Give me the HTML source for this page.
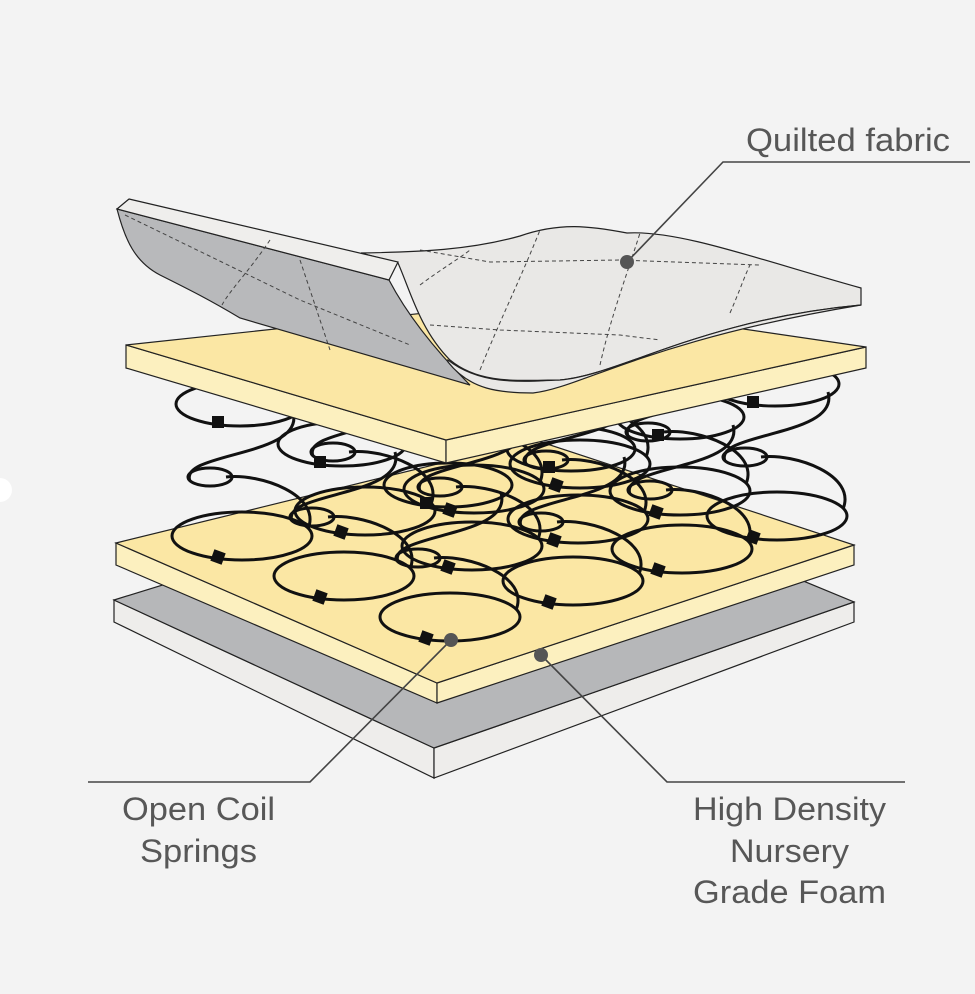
<!DOCTYPE html>
<html><head><meta charset="utf-8"><style>
html,body{margin:0;padding:0;background:#f3f3f3;}
svg{display:block;}
text{font-family:"Liberation Sans",sans-serif;fill:#575757;font-size:32px;}
</style></head><body>
<svg width="975" height="994" viewBox="0 0 975 994" xmlns="http://www.w3.org/2000/svg">
<defs>
<g id="sp" fill="none" stroke="#111" stroke-width="3">
<ellipse cx="24" cy="-21" rx="70" ry="24"/>
<path d="M90,-28 C104,-62 42,-84 8,-80"/>
<ellipse cx="-8" cy="-80" rx="22" ry="9"/>
<path d="M-28,-76 C-40,-105 88,-100 75,-145"/>
<ellipse cx="22" cy="-153" rx="64" ry="22"/>
<rect x="-6" y="-6" width="12" height="12" fill="#111" stroke="none" transform="rotate(20)"/>
<rect x="-6" y="-141" width="12" height="12" fill="#111" stroke="none"/>
</g>
</defs>
<polygon points="114,600 434,748 434,778 114,622" fill="#eeedeb" stroke="#222" stroke-width="1.2"/>
<polygon points="434,748 854,602 854,622 434,778" fill="#eeedeb" stroke="#222" stroke-width="1.2"/>
<polygon points="114,600 535,470 854,602 434,748" fill="#b6b7b9" stroke="#222" stroke-width="1.2"/>
<polygon points="116,543 437,683 437,703 116,565" fill="#fcf0bf" stroke="#222" stroke-width="1.2"/>
<polygon points="437,683 854,545 854,565 437,703" fill="#fcf0bf" stroke="#222" stroke-width="1.2"/>
<polygon points="116,543 535,440 854,545 437,683" fill="#fbe7a4" stroke="#222" stroke-width="1.2"/>
<use href="#sp" x="556" y="485"/>
<use href="#sp" x="656" y="512"/>
<use href="#sp" x="753" y="537"/>
<use href="#sp" x="450" y="510"/>
<use href="#sp" x="554" y="540"/>
<use href="#sp" x="658" y="570"/>
<use href="#sp" x="341" y="532"/>
<use href="#sp" x="448" y="567"/>
<use href="#sp" x="549" y="602"/>
<use href="#sp" x="218" y="557"/>
<use href="#sp" x="320" y="597"/>
<use href="#sp" x="426" y="638"/>
<polygon points="126,345 446,440 446,463 126,368" fill="#fcf0bf" stroke="#222" stroke-width="1.2"/>
<polygon points="446,440 866,347 866,368 446,463" fill="#fcf0bf" stroke="#222" stroke-width="1.2"/>
<polygon points="126,345 546,300 866,347 446,440" fill="#fbe7a4" stroke="#222" stroke-width="1.2"/>
<path d="M117,209 C125,240 135,262 160,275 C190,290 210,300 240,318 L470,385 C440,355 410,320 389,280 Z" fill="#b8b9bb" stroke="#222" stroke-width="1.2"/>
<path d="M398,263 C410,290 420,330 450,360 C480,385 520,380 560,380 C620,375 700,320 861,305 L861,288 C760,260 680,230 627,233 C590,226 560,222 520,236 C470,250 420,252 361,253 Z" fill="#e9e8e6" stroke="#222" stroke-width="1.2"/>
<path d="M448,362 C470,390 500,393 533,393 C580,388 650,340 861,305 C700,320 620,375 560,380 C520,382 480,385 448,360 Z" fill="#e9e8e6" stroke="#222" stroke-width="1.2"/>
<polygon points="129,199 398,262 389,280 117,209" fill="#efeeec" stroke="#222" stroke-width="1.2"/>
<g fill="none" stroke="#444" stroke-width="1" stroke-dasharray="4,3">
<path d="M125,215 L300,300 L410,345"/>
<path d="M270,240 C250,270 230,290 222,305"/>
<path d="M300,260 L330,350"/>
<path d="M420,250 L490,262 L620,260 L760,265"/>
<path d="M430,325 L500,330 L620,335 L660,340"/>
<path d="M420,285 C440,270 460,258 470,250"/>
<path d="M480,370 C500,320 520,280 540,230"/>
<path d="M600,365 C610,320 625,280 640,233"/>
<path d="M730,313 C740,290 745,275 750,265"/>
</g>
<g fill="none" stroke="#444" stroke-width="1.6">
<polyline points="627,262 723,162 970,162"/>
<polyline points="451,640 310,782 88,782"/>
<polyline points="541,655 667,782 905,782"/>
</g>
<g fill="#555">
<circle cx="627" cy="262" r="7"/>
<circle cx="451" cy="640" r="7"/>
<circle cx="541" cy="655" r="7"/>
</g>
<circle cx="0" cy="490" r="12" fill="#fff"/>
<text x="746" y="151" font-size="33" textLength="204" lengthAdjust="spacingAndGlyphs">Quilted fabric</text>
<text x="122" y="820" textLength="153" lengthAdjust="spacingAndGlyphs">Open Coil</text>
<text x="140" y="862" textLength="117" lengthAdjust="spacingAndGlyphs">Springs</text>
<text x="693" y="820" textLength="193" lengthAdjust="spacingAndGlyphs">High Density</text>
<text x="730" y="862" textLength="119" lengthAdjust="spacingAndGlyphs">Nursery</text>
<text x="693" y="903" textLength="193" lengthAdjust="spacingAndGlyphs">Grade Foam</text>
</svg>
</body></html>
